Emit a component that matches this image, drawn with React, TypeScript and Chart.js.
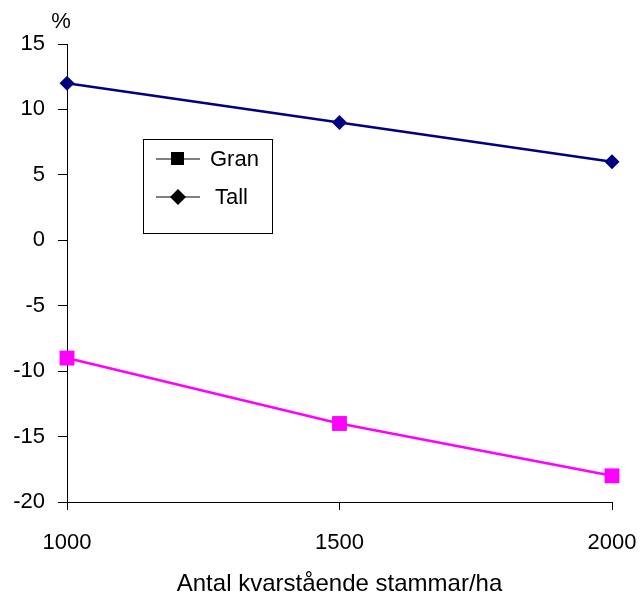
import React, { useEffect, useRef } from "react";
import { Chart, registerables } from "chart.js";

Chart.register(...registerables);

const stems = [1000, 1500, 2000];
const granValues = [-9, -14, -18];
const tallValues = [12, 9, 6];
const yTicks = [15, 10, 5, 0, -5, -10, -15, -20];
const seriesNames = ["Gran", "Tall"];
const xTitle = "Antal kvarstående stammar/ha";
const yUnit = "%";

const FONT = "'Liberation Sans', Arial, sans-serif";
const FS = 22;

const legendPlugin = {
  id: "boxLegend",
  afterDraw(chart: any) {
    const ctx = chart.ctx;
    ctx.save();
    ctx.fillStyle = "#000";
    ctx.font = `${FS}px ${FONT}`;
    ctx.textAlign = "center";
    ctx.textBaseline = "middle";
    ctx.fillText(yUnit, 61, 22);

    const bx = 143.5, by = 139.5, bw = 129, bh = 94;
    ctx.strokeStyle = "#000";
    ctx.lineWidth = 1;
    ctx.strokeRect(bx, by, bw, bh);
    const rows = [159, 197];
    rows.forEach((yy, i) => {
      ctx.beginPath();
      ctx.strokeStyle = "#000";
      ctx.lineWidth = 1;
      ctx.moveTo(156, yy);
      ctx.lineTo(200, yy);
      ctx.stroke();
      ctx.fillStyle = "#000";
      if (i === 0) {
        ctx.fillRect(171, yy - 7, 13, 13);
      } else {
        ctx.beginPath();
        ctx.moveTo(178, yy - 8);
        ctx.lineTo(186, yy);
        ctx.lineTo(178, yy + 8);
        ctx.lineTo(170, yy);
        ctx.closePath();
        ctx.fill();
      }
      ctx.fillStyle = "#000";
      ctx.font = `${FS}px ${FONT}`;
      ctx.textAlign = "left";
      ctx.textBaseline = "middle";
      ctx.fillText(seriesNames[i], i === 0 ? 210 : 215, yy + 1);
    });
    ctx.restore();
  },
};

export default function App() {
  const ref = useRef<HTMLCanvasElement>(null);
  useEffect(() => {
    document.body.style.margin = "0";
    const canvas = ref.current!;
    const chart = new Chart(canvas, {
      type: "line",
      data: {
        datasets: [
          {
            label: seriesNames[0],
            data: stems.map((x, i) => ({ x, y: granValues[i] })),
            borderColor: "#FF00FF",
            backgroundColor: "#FF00FF",
            borderWidth: 2.5,
            pointStyle: "rect",
            pointRadius: 10.5,
            pointBorderWidth: 0,
            clip: false,
          },
          {
            label: seriesNames[1],
            data: stems.map((x, i) => ({ x, y: tallValues[i] })),
            borderColor: "#000080",
            backgroundColor: "#000080",
            borderWidth: 2.5,
            pointStyle: "rectRot",
            pointRadius: 7.5,
            pointBorderWidth: 0,
            clip: false,
          },
        ],
      },
      options: {
        responsive: false,
        animation: false,
        layout: { padding: { left: 0, top: 44, right: 28, bottom: 0 } },
        plugins: {
          legend: { display: false },
          tooltip: { enabled: false },
        },
        scales: {
          x: {
            type: "linear",
            min: stems[0],
            max: stems[stems.length - 1],
            afterBuildTicks: (s: any) => {
              s.ticks = stems.map((v) => ({ value: v }));
            },
            afterFit: (s: any) => {
              s.height = 93;
              s.paddingLeft = 0;
              s.paddingRight = 0;
            },
            border: { color: "#000", width: 1 },
            grid: { drawOnChartArea: false, tickLength: 8, color: "#000" },
            ticks: {
              color: "#000",
              font: { family: FONT, size: FS },
              padding: 20,
              maxRotation: 0,
              callback: (v: any) => String(v),
            },
            title: {
              display: true,
              text: xTitle,
              color: "#000",
              font: { family: FONT, size: 24 },
              padding: { top: 0, bottom: -4 },
            },
          },
          y: {
            min: -20,
            max: 15,
            afterBuildTicks: (s: any) => {
              s.ticks = yTicks.map((v) => ({ value: v }));
            },
            afterFit: (s: any) => {
              s.width = 67;
              s.paddingTop = 0;
              s.paddingBottom = 0;
            },
            border: { color: "#000", width: 1 },
            grid: { drawOnChartArea: false, tickLength: 9, color: "#000" },
            ticks: {
              color: "#000",
              font: { family: FONT, size: FS },
              padding: 13,
              callback: (v: any) => String(v),
            },
          },
        },
      },
      plugins: [legendPlugin],
    } as any);
    return () => chart.destroy();
  }, []);
  return <canvas ref={ref} width={640} height={595} style={{ display: "block" }} />;
}
